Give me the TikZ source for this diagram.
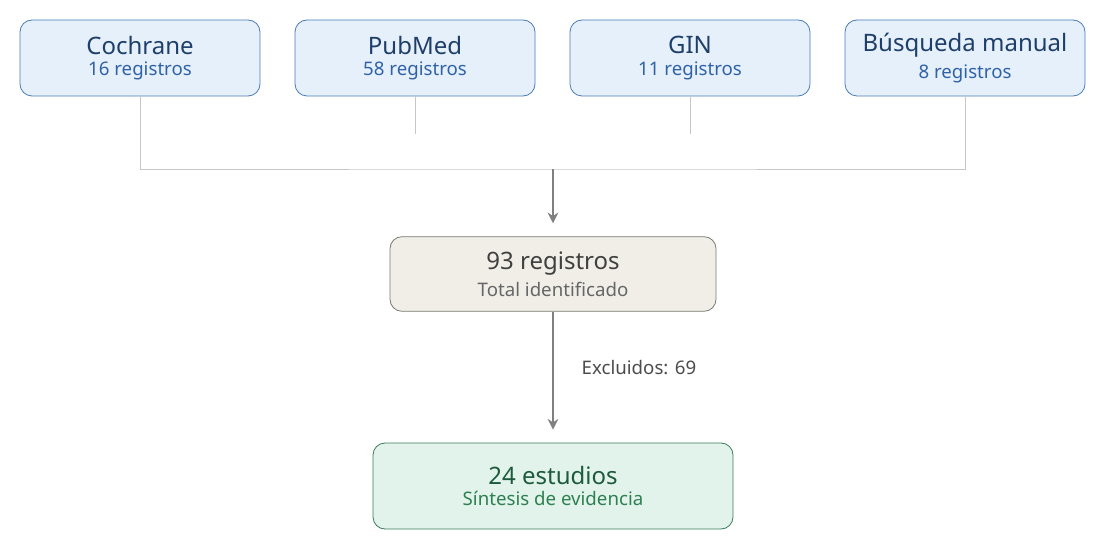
\documentclass[tikz,border=0pt]{standalone}
\usepackage{fontspec}
\setmainfont{Noto Sans}
\usetikzlibrary{arrows.meta,positioning,calc}
\definecolor{srcfill}{HTML}{E6F0FA}
\definecolor{srcdraw}{HTML}{4A7BB8}
\definecolor{srctitle}{HTML}{1F3F6B}
\definecolor{srcsub}{HTML}{2F62A6}
\definecolor{totfill}{HTML}{F1EEE8}
\definecolor{totdraw}{HTML}{7A7A72}
\definecolor{resfill}{HTML}{E2F3EC}
\definecolor{resdraw}{HTML}{3C7A5A}
\definecolor{restitle}{HTML}{1E5A3C}
\definecolor{ressub}{HTML}{2E8050}
\newcommand{\boxtext}[4]{{\fontsize{18}{20}\selectfont\color{#1}#2}\\[4pt]{\fontsize{14}{16}\selectfont\color{#3}#4}}
\begin{document}
\begin{tikzpicture}[x=0.75pt,y=-0.75pt,
  box/.style={rectangle, rounded corners=9pt, draw, line width=0.6pt, align=center, inner sep=0pt},
  source/.style={box, fill=srcfill, draw=srcdraw, minimum width=180pt, minimum height=57pt},
  link/.style={draw=black!22, line width=0.6pt},
  flow/.style={draw=black!50, line width=1.5pt, -{Stealth[length=8pt,width=8pt]}}]
\useasboundingbox (0,0) rectangle (1102,545);
% fuentes
\node[source] (cochrane) at (140,58) {\boxtext{srctitle}{Cochrane}{srcsub}{16 registros}};
\node[source] (pubmed) at (415,58) {\boxtext{srctitle}{PubMed}{srcsub}{58 registros}};
\node[source] (gin) at (690,58) {\boxtext{srctitle}{GIN}{srcsub}{11 registros}};
\node[source] (manual) at (965,58) {\boxtext{srctitle}{Búsqueda manual}{srcsub}{8 registros}};
% total
\node[box, fill=totfill, draw=totdraw, minimum width=244.5pt, minimum height=56pt] (total) at (553,274) {\boxtext{black!75}{93 registros}{black!60}{Total identificado}};
% resultado
\node[box, fill=resfill, draw=resdraw, minimum width=270pt, minimum height=64.5pt] (result) at (553,486) {\boxtext{restitle}{24 estudios}{ressub}{Síntesis de evidencia}};
% conectores
\coordinate (join) at (553,169);
\coordinate (pubend) at (415,134);
\coordinate (ginend) at (690,134);
\draw[link] (cochrane.south) |- (join) -| (manual.south);
\draw[link] (pubmed.south) -- (pubend);
\draw[link] (gin.south) -- (ginend);
\draw[flow] (join) -- ($(total.north)+(0,-13)$);
\draw[flow] (total.south) -- ($(result.north)+(0,-13)$);
\node[anchor=west, font=\fontsize{14}{16}\selectfont, text=black!70] (excl) at (577,368) {Excluidos: 69};
\end{tikzpicture}
\end{document}
